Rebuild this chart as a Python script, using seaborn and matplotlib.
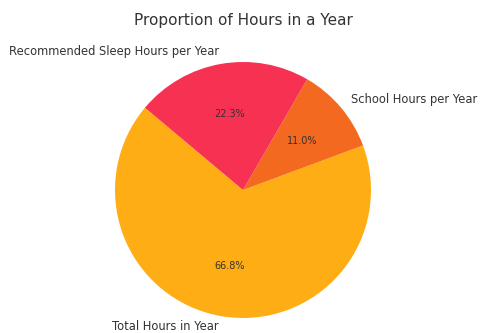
import seaborn as sns
import matplotlib.pyplot as plt

labels = ['Total Hours in Year', 'School Hours per Year', 'Recommended Sleep Hours per Year']
hours = [8760, 1440, 2920]
colors = ['#FFAD14', '#F2691F', '#F73152']

sns.set_style("white")
plt.rcParams['font.family'] = ['DejaVu Sans']

fig = plt.figure(figsize=(4.8, 3.33), dpi=100)
# square axes so the pie sits where it does in the reference
ax = fig.add_axes([115 / 480, 15 / 333, 256 / 480, 256 / 333])
wedges, texts, autotexts = ax.pie(hours, labels=labels, colors=colors,
                                  autopct='%1.1f%%', startangle=140,
                                  wedgeprops={'linewidth': 0},
                                  textprops={'fontsize': 8.3, 'color': '#333333'})
for t in autotexts:
    t.set_fontsize(7)
# bottom label sits right at the edge, nudge it up a little so it isn't cut
x0, y0 = texts[0].get_position()
texts[0].set_position((x0, y0 + 0.02))
ax.set_xlim(-1, 1)
ax.set_ylim(-1, 1)
ax.set_aspect('equal')

fig.text(243 / 480, 1 - 20 / 333, 'Proportion of Hours in a Year',
         ha='center', va='center', fontsize=11, color='#333333')

plt.savefig('out.png', dpi=100)
